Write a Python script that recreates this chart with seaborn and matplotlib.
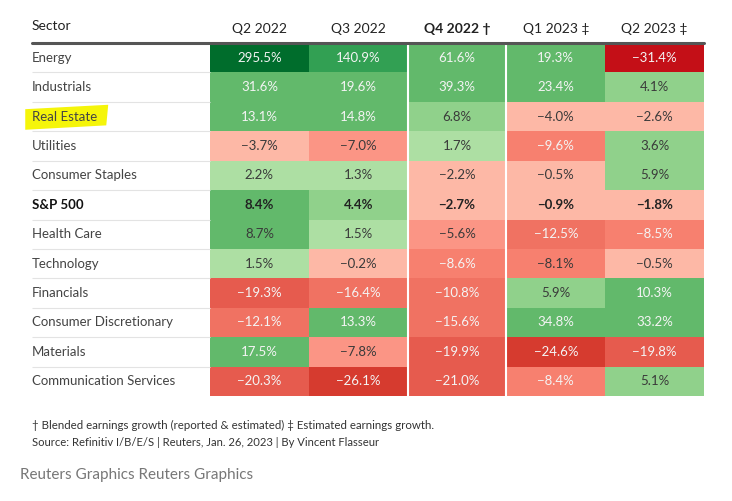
import numpy as np
import pandas as pd
import seaborn as sns
import matplotlib.pyplot as plt
from matplotlib.colors import ListedColormap, BoundaryNorm
from matplotlib.patches import Polygon

sectors = ['Energy', 'Industrials', 'Real Estate', 'Utilities', 'Consumer Staples',
           'S&P 500', 'Health Care', 'Technology', 'Financials',
           'Consumer Discretionary', 'Materials', 'Communication Services']
quarters = ['Q2 2022', 'Q3 2022', 'Q4 2022 †', 'Q1 2023 ‡', 'Q2 2023 ‡']
q2_2022 = [295.5, 31.6, 13.1, -3.7, 2.2, 8.4, 8.7, 1.5, -19.3, -12.1, 17.5, -20.3]
q3_2022 = [140.9, 19.6, 14.8, -7.0, 1.3, 4.4, 1.5, -0.2, -16.4, 13.3, -7.8, -26.1]
q4_2022 = [61.6, 39.3, 6.8, 1.7, -2.2, -2.7, -5.6, -8.6, -10.8, -15.6, -19.9, -21.0]
q1_2023 = [19.3, 23.4, -4.0, -9.6, -0.5, -0.9, -12.5, -8.1, 5.9, 34.8, -24.6, -8.4]
q2_2023 = [-31.4, 4.1, -2.6, 3.6, 5.9, -1.8, -8.5, -0.5, 10.3, 33.2, -19.8, 5.1]

df = pd.DataFrame({quarters[0]: q2_2022, quarters[1]: q3_2022, quarters[2]: q4_2022,
                   quarters[3]: q1_2023, quarters[4]: q2_2023}, index=sectors)

# binned red/green scale
bounds = [-40, -30, -22, -18, -10, -8, -5, 0, 3, 8, 100, 200, 400]
colors = ['#c40f17', '#d63b2f', '#e65b4e', '#f07262', '#f7806f', '#fb9585',
          '#fdb8a6', '#addfa3', '#90d18b', '#62b96b', '#32a053', '#006d2c']
cmap = ListedColormap(colors)
norm = BoundaryNorm(bounds, cmap.N)

labels = df.map(lambda v: f"{v:.1f}%".replace('-', '\u2212'))

sns.set_style('white')
plt.rcParams['font.family'] = ['Lato', 'DejaVu Sans']

fig = plt.figure(figsize=(7.32, 5.01), dpi=100)
ax = fig.add_axes([210 / 732, 1 - 396 / 501, 494 / 732, 353 / 501])
sns.heatmap(df, cmap=cmap, norm=norm, annot=labels, fmt='', cbar=False, ax=ax,
            annot_kws={'fontsize': 9.5})

# text colour: white on the strong cells
for t, v, name in zip(ax.texts, df.values.flatten(), np.repeat(sectors, len(quarters))):
    if name == 'S&P 500':
        t.set_color('#222222')
        t.set_fontweight('bold')
    elif v >= 10 or v <= -8.2:
        t.set_color('#f4f4f4')
    else:
        t.set_color('#3a3a3a')

ax.xaxis.tick_top()
ax.set_xticklabels(quarters, rotation=0, fontsize=10, color='#222222')
ax.get_xticklabels()[2].set_fontweight('bold')
ax.set_yticklabels(sectors, rotation=0, fontsize=9.5, color='#444444', ha='left')
ax.get_yticklabels()[5].set_fontweight('bold')
ax.get_yticklabels()[5].set_color('#111111')
ax.tick_params(axis='x', length=0, pad=5.5)
ax.tick_params(axis='y', length=0, pad=178 / 1.389)
ax.set_xlabel('')
ax.set_ylabel('')

# lines
ax.hlines(range(1, 12), -1.8, 0, color='#e3e3e3', lw=0.8, clip_on=False)
ax.plot([-1.8, 5], [0, 0], color='#555555', lw=2.2, clip_on=False, zorder=5)
ax.vlines([2, 3], 0, 12, color='white', lw=1.5)

# highlighter mark behind Real Estate
ax.add_patch(Polygon([(-1.87, 2.25), (-1.03, 2.10), (-1.05, 2.80), (-1.87, 2.95)],
                     closed=True, facecolor='#f5f50a', edgecolor='none',
                     clip_on=False, zorder=0.1))

fig.text(32 / 732, 1 - 25.5 / 501, 'Sector', fontsize=10, color='#222222', va='center')
fig.text(32 / 732, 1 - 425 / 501,
         '† Blended earnings growth (reported & estimated) ‡ Estimated earnings growth.',
         fontsize=8.3, color='#333333', va='center')
fig.text(32 / 732, 1 - 442 / 501,
         'Source: Refinitiv I/B/E/S | Reuters, Jan. 26, 2023 | By Vincent Flasseur',
         fontsize=8.1, color='#333333', va='center')
fig.text(20 / 732, 1 - 475 / 501, 'Reuters Graphics Reuters Graphics',
         fontsize=11, color='#777777', va='center')

fig.savefig('out.png', dpi=100)
